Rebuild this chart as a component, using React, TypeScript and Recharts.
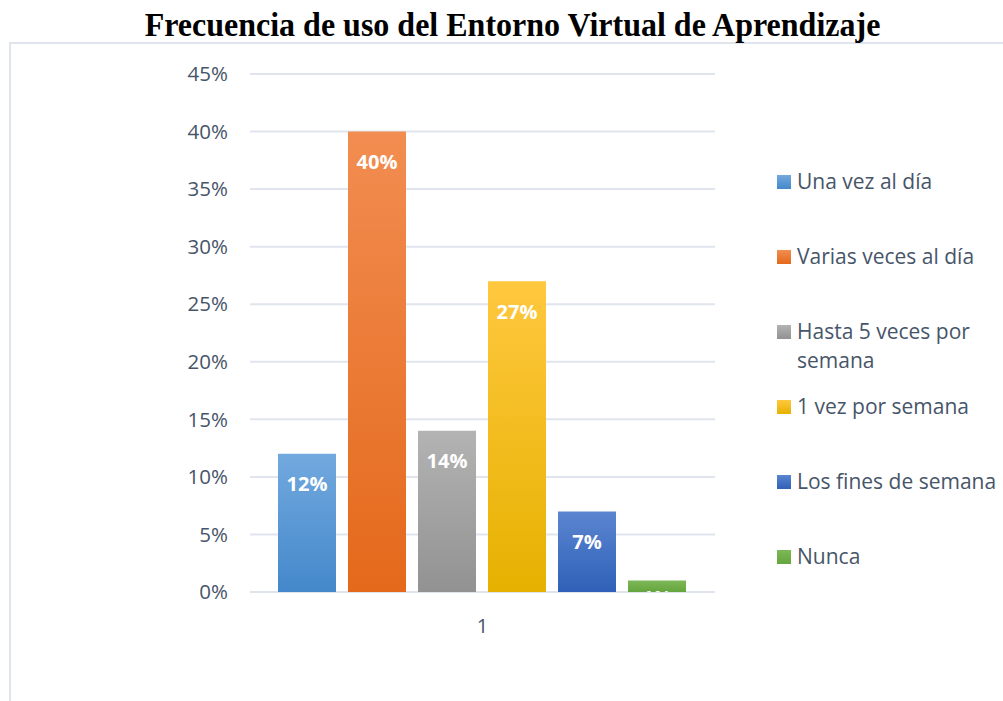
import * as React from "react";
import { BarChart, Bar, XAxis, YAxis, CartesianGrid, LabelList } from "recharts";

const CATEGORIES = ["1"];
const SERIES_NAMES = [
  "Una vez al día",
  "Varias veces al día",
  "Hasta 5 veces por semana",
  "1 vez por semana",
  "Los fines de semana",
  "Nunca",
];
const SERIES_VALUES = [12, 40, 14, 27, 7, 1];
const COLOR_TOP = ["#72a9de", "#f28d51", "#b3b3b3", "#ffc83f", "#5b85d0", "#7db858"];
const COLOR_BOTTOM = ["#4488cb", "#e4691b", "#929292", "#e6b100", "#2f61b8", "#65a53d"];
const Y_TICKS = [0, 5, 10, 15, 20, 25, 30, 35, 40, 45];

const FONT = "'Open Sans', 'Noto Sans', sans-serif";
const TEXT = "#475569";

const rows = CATEGORIES.map((c) => {
  const r: Record<string, any> = { name: c };
  SERIES_VALUES.forEach((v, i) => (r["s" + i] = v));
  return r;
});

const makeLabel = (i: number) => (p: any) => {
  const vb = p.viewBox && p.viewBox.width != null ? p.viewBox : p;
  const { x, y, width, height } = vb;
  const cy = y + Math.min(30, height / 2 + 11);
  const id = "lblclip" + i;
  return (
    <g>
      <defs>
        <clipPath id={id}>
          <rect x={x} y={y} width={width} height={height} />
        </clipPath>
      </defs>
      <text
        x={x + width / 2}
        y={cy}
        textAnchor="middle"
        dominantBaseline="central"
        clipPath={`url(#${id})`}
        fill="#fff"
        fontWeight={700}
        fontSize={20}
        fontFamily={FONT}
      >
        {p.value}%
      </text>
    </g>
  );
};

export default function App() {
  return (
    <div style={{ position: "absolute", left: 0, top: 0, width: 1003, height: 701, overflow: "hidden", background: "#fff" }}>
      <div
        style={{
          position: "absolute", left: 9, top: 42, width: 1100, height: 800,
          border: "2px solid #e0e5ed",
        }}
      />
      <div
        style={{
          position: "absolute", left: 22, top: 4, width: 981, textAlign: "center",
          fontFamily: "'Liberation Serif', 'Times New Roman', serif", fontWeight: 700,
          fontSize: 32, lineHeight: "40px", color: "#000",
          transform: "scaleY(1.08)",
        }}
      >
        Frecuencia de uso del Entorno Virtual de Aprendizaje
      </div>
      <div style={{ position: "absolute", left: 0, top: 0 }}>
        <BarChart
          width={1003}
          height={701}
          data={rows}
          margin={{ top: 74, right: 288, bottom: 0, left: 0 }}
          barCategoryGap={28}
          barGap={12}
        >
          <defs>
            {SERIES_NAMES.map((_, i) => (
              <linearGradient key={i} id={"grad" + i} x1="0" y1="0" x2="0" y2="1">
                <stop offset="0%" stopColor={COLOR_TOP[i]} />
                <stop offset="100%" stopColor={COLOR_BOTTOM[i]} />
              </linearGradient>
            ))}
          </defs>
          <CartesianGrid vertical={false} stroke="#e0e5ed" strokeWidth={2} />
          <XAxis
            dataKey="name"
            axisLine={false}
            tickLine={false}
            tickSize={0}
            tickMargin={27}
            height={109}
            tick={{ fontSize: 20, fill: TEXT, fontFamily: FONT }}
          />
          <YAxis
            domain={[0, 45]}
            ticks={Y_TICKS}
            interval={0}
            axisLine={false}
            tickLine={false}
            tickSize={0}
            tickMargin={22}
            width={250}
            tickFormatter={(v) => `${v}%`}
            tick={{ fontSize: 20.5, fill: TEXT, fontFamily: FONT }}
          />
          {SERIES_NAMES.map((n, i) => (
            <Bar key={n} dataKey={"s" + i} name={n} fill={`url(#grad${i})`} isAnimationActive={false}>
              <LabelList dataKey={"s" + i} content={makeLabel(i)} />
            </Bar>
          ))}
        </BarChart>
      </div>
      <div style={{ position: "absolute", left: 777, top: 167, fontFamily: FONT, fontSize: 21, color: TEXT }}>
        {SERIES_NAMES.map((n, i) => (
          <div key={n} style={{ height: 75, display: "flex", alignItems: "flex-start" }}>
            <div
              style={{
                width: 14, height: 14, marginTop: 8, marginRight: 6, flex: "none",
                background: `linear-gradient(${COLOR_TOP[i]}, ${COLOR_BOTTOM[i]})`,
              }}
            />
            <div style={{ width: 215, lineHeight: "29px" }}>{n}</div>
          </div>
        ))}
      </div>
    </div>
  );
}
